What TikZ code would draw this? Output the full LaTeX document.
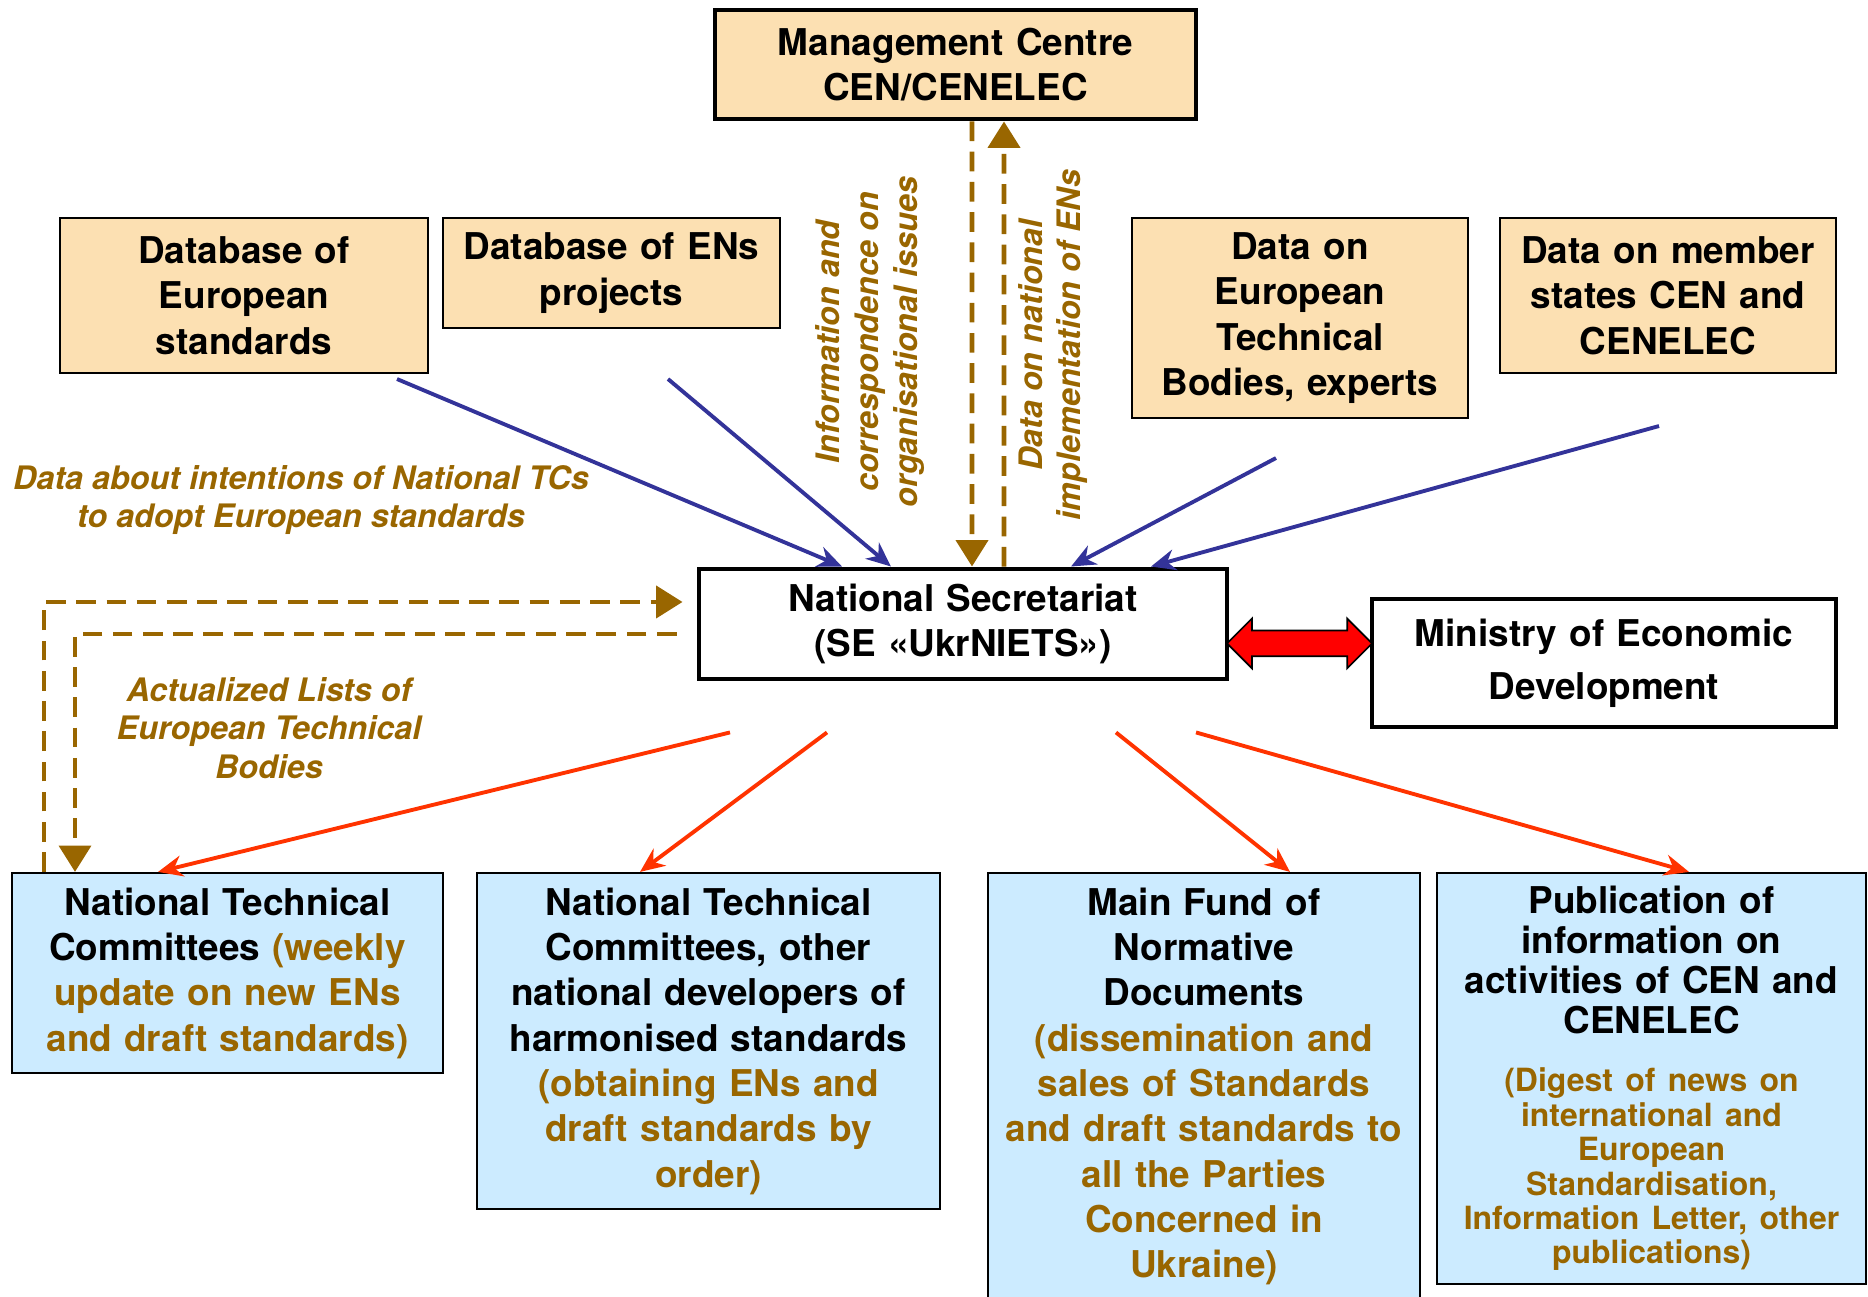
\documentclass[tikz,border=0pt]{standalone}
\usepackage{fontspec}
\setmainfont{TeX Gyre Heros}
\usetikzlibrary{arrows.meta,shapes.arrows,calc}
\definecolor{brn}{HTML}{996600}
\definecolor{beige}{HTML}{FCE0B2}
\definecolor{pale}{HTML}{CCEBFF}
\definecolor{navy}{HTML}{333399}
\definecolor{orng}{HTML}{FF3300}

\begin{document}
\begin{tikzpicture}[
  box/.style={draw, align=center, inner xsep=0pt, inner ysep=0pt, font=\bfseries\fontsize{10.5}{12.9}\selectfont},
  top/.style={box, fill=beige, line width=0.6pt},
  low/.style={box, fill=pale, line width=0.6pt},
  main/.style={box, fill=white, line width=1.4pt},
  note/.style={text=brn, align=center, font=\bfseries\itshape\fontsize{9.2}{11}\selectfont},
  feed/.style={navy, line width=1.1pt, -{Stealth[length=7pt,width=6pt]}},
  send/.style={orng, line width=1.1pt, -{Stealth[length=7pt,width=6pt]}},
  dsh/.style={brn, line width=1.4pt, dash pattern=on 5.6pt off 3pt, -{Triangle[length=7.5pt,width=9pt]}}
]
\useasboundingbox (0,0) rectangle (18.68,12.97);

\node[main, fill=beige, text width=4.81cm, minimum height=1.09cm] (mc) at (9.555,12.325) {Management Centre\\CEN/CENELEC};
\node[top, text width=3.68cm, minimum height=1.55cm] (db1) at (2.44,10.015) {Database of\\European\\standards};
\node[top, text width=3.37cm, minimum height=1.10cm] (db2) at (6.115,10.24) {Database of ENs\\projects};
\node[top, text width=3.36cm, minimum height=2.00cm] (tb) at (13.0,9.79) {Data on\\European\\Technical\\Bodies, experts};
\node[top, text width=3.36cm, minimum height=1.55cm] (ms) at (16.68,10.015) {Data on member\\states CEN and\\CENELEC};

\node[main, text width=5.28cm, minimum height=1.10cm] (ns) at (9.63,6.73) {National Secretariat\\(SE «UkrNIETS»)};
\node[main, text width=4.64cm, minimum height=1.28cm, font=\bfseries\fontsize{10.5}{15}\selectfont] (min) at (16.04,6.34) {Ministry of Economic\\Development};
\node[double arrow, draw, fill=red, line width=0.5pt, inner xsep=0pt, inner ysep=0.12cm, minimum height=1.45cm,
  double arrow head extend=0.12cm, double arrow tip angle=90] (link) at ($(ns.east)!0.5!(min.west)$) {};

\node[low, text width=4.31cm, minimum height=2.00cm] (ntc1) at (2.275,3.24) {National Technical\\Committees {\color{brn}(weekly\\update on new ENs\\and draft standards)}};
\node[low, text width=4.63cm, minimum height=3.36cm] (ntc2) at (7.085,2.56) {National Technical\\Committees, other\\national developers of\\harmonised standards\\{\color{brn}(obtaining ENs and\\draft standards by\\order)}};
\node[low, text width=4.32cm, minimum height=4.27cm] (fund) at (12.04,2.105) {Main Fund of\\Normative\\Documents\\{\color{brn}(dissemination and\\sales of Standards\\and draft standards to\\all the Parties\\Concerned in\\Ukraine)}};
\node[low, text width=4.29cm, minimum height=4.11cm] (pub) at (16.515,2.185) {{\fontsize{10.5}{11.4}\selectfont Publication of\\information on\\activities of CEN and\\CENELEC\par}\vspace{6.7pt}{\color{brn}\fontsize{9.1}{9.8}\selectfont (Digest of news on\\international and\\European\\Standardisation,\\Information Letter, other\\publications)\par}};

\node[note] (intent) at (3.01,7.97) {Data about intentions of National TCs\\to adopt European standards};
\node[note] (lists) at (2.69,5.69) {Actualized Lists of\\European Technical\\Bodies};
\node[note, rotate=90] (corr) at (8.70,9.55) {Information and\\correspondence on\\organisational issues};
\node[note, rotate=90] (impl) at (10.53,9.52) {Data on national\\implementation of ENs};

\draw[feed] ([shift={(1.53,-0.05)}]db1.south) -- ([xshift=-1.21cm]ns.north);
\draw[feed] ([shift={(0.565,-0.5)}]db2.south) -- ([xshift=-0.72cm]ns.north);
\draw[feed] ([shift={(-0.24,-0.39)}]tb.south) -- ([xshift=1.08cm]ns.north);
\draw[feed] ([shift={(-0.09,-0.52)}]ms.south) -- ([xshift=1.88cm]ns.north);

\draw[dsh] ([xshift=0.165cm]mc.south) -- ([xshift=0.09cm]ns.north);
\draw[dsh] ([xshift=0.41cm]ns.north) -- ([xshift=0.485cm]mc.south);
\draw[dsh] ([xshift=-1.835cm]ntc1.north) |- ([shift={(-0.14,0.22)}]ns.west);
\draw[dsh] ([shift={(-0.2,-0.1)}]ns.west) -| ([xshift=-1.525cm]ntc1.north);

\draw[send] ([shift={(-2.33,-0.51)}]ns.south) -- ([xshift=-0.695cm]ntc1.north);
\draw[send] ([shift={(-1.36,-0.51)}]ns.south) -- ([xshift=-0.685cm]ntc2.north);
\draw[send] ([shift={(1.53,-0.51)}]ns.south) -- ([xshift=0.86cm]fund.north);
\draw[send] ([shift={(2.33,-0.51)}]ns.south) -- ([xshift=0.375cm]pub.north);
\end{tikzpicture}
\end{document}
